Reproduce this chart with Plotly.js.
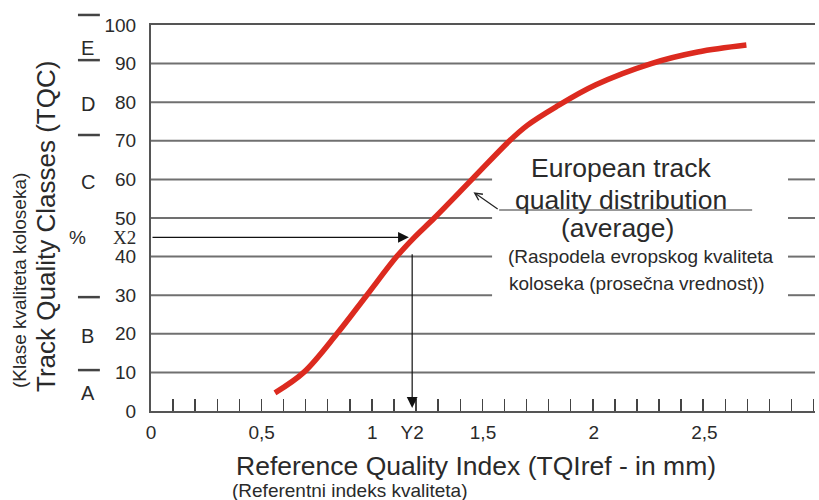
<!DOCTYPE html>
<html>
<head>
<meta charset="utf-8">
<script src="https://cdn.plot.ly/plotly-3.0.1.min.js"></script>
<style>html,body{margin:0;padding:0;background:#fff;}#chart{width:819px;height:500px;}</style>
</head>
<body>
<div id="chart"></div>
<script>
// ---- data ----
const tqiRef = [0.56, 0.69, 0.84, 0.975, 1.11, 1.19, 1.28, 1.45, 1.62, 1.70, 1.83, 2.01, 2.26, 2.47, 2.69];
const tqcPct = [4.7, 10, 20, 30, 40, 45, 50, 60, 70, 74, 78.8, 84.5, 90, 93, 94.8];

const xTickVals = [0, 0.5, 1, 1.18, 1.5, 2, 2.5, 3];
const xTickText = ['0', '0,5', '1', 'Y2', '1,5', '2', '2,5', '3'];
const yTickVals = [0, 10, 20, 30, 40, 45, 50, 60, 70, 80, 90, 100];
const yTickText = ['0', '10', '20', '30', '40', '<span style="font-family:Liberation Serif">X2</span>', '50', '60', '70', '80', '90', '100'];

const classNames = ['A', 'B', 'C', 'D', 'E'];
const classCenters = [4.7, 19.4, 59.3, 79.5, 94];
const classBounds = [10.6, 29.5, 71.5, 90.9, 102.6];

const gridFull = [10, 20, 70, 80, 90];
const gridBroken = [30, 40, 50, 60];

const x2Level = 45;   // X2
const y2Value = 1.18; // Y2

// ---- styles ----
const FONT = 'Liberation Sans, Arial, sans-serif';
const TXT = '#2a2a2a';
const GRID = '#707070';

const shapes = [];
gridFull.forEach(v => shapes.push({type:'line', xref:'x', yref:'y', x0:0, x1:3, y0:v, y1:v, layer:'below', line:{color:GRID, width:2}}));
gridBroken.forEach(v => {
  shapes.push({type:'line', xref:'x', yref:'y', x0:0, x1:1.541, y0:v, y1:v, layer:'below', line:{color:GRID, width:2}});
  shapes.push({type:'line', xref:'x', yref:'y', x0:2.878, x1:3, y0:v, y1:v, layer:'below', line:{color:GRID, width:2}});
});
// class boundary dashes (left of axis)
classBounds.forEach(v => shapes.push({type:'line', xref:'paper', yref:'paper', x0:-0.110, x1:-0.077, y0:v/100, y1:v/100, line:{color:'#444', width:2.5}}));
// underline of the label
shapes.push({type:'line', xref:'x', yref:'y', x0:1.573, x1:2.716, y0:52.07, y1:52.07, line:{color:'#333', width:1.2}});

const annotations = [];
classNames.forEach((c, i) => annotations.push({xref:'paper', yref:'y', x:-0.0949, y:classCenters[i], text:c, showarrow:false, font:{family:FONT, size:20, color:TXT}, xanchor:'center', yanchor:'middle'}));
annotations.push({xref:'paper', yref:'y', x:-0.111, y:x2Level, text:'%', showarrow:false, font:{family:FONT, size:19, color:TXT}, xanchor:'center', yanchor:'middle'});
// axis titles
annotations.push({xref:'paper', yref:'paper', x:-0.158, y:0.477, text:'Track Quality Classes (TQC)', textangle:-90, showarrow:false, font:{family:FONT, size:26, color:TXT}, xanchor:'center', yanchor:'middle'});
annotations.push({xref:'paper', yref:'paper', x:-0.197, y:0.337, text:'(Klase kvaliteta koloseka)', textangle:-90, showarrow:false, font:{family:FONT, size:19, color:TXT}, xanchor:'center', yanchor:'middle'});
annotations.push({xref:'paper', yref:'paper', x:0.489, y:-0.1425, text:'Reference Quality Index (TQIref - in mm)', showarrow:false, font:{family:FONT, size:26.5, color:TXT}, xanchor:'center', yanchor:'middle'});
annotations.push({xref:'paper', yref:'paper', x:0.2997, y:-0.2047, text:'(Referentni indeks kvaliteta)', showarrow:false, font:{family:FONT, size:19, color:TXT}, xanchor:'center', yanchor:'middle'});
// label text
const labelLines = [
  ['European track', 2.124, 62.95, 26.5],
  ['quality distribution', 2.124, 54.7, 26.5],
  ['(average)', 2.106, 47.4, 26.5],
  ['(Raspodela evropskog kvaliteta', 2.214, 39.9, 19],
  ['koloseka (prosečna vrednost))', 2.196, 33.0, 19]
];
labelLines.forEach(l => annotations.push({xref:'x', yref:'y', x:l[1], y:l[2], text:l[0], showarrow:false, font:{family:FONT, size:l[3], color:TXT}, xanchor:'center', yanchor:'middle'}));
// arrows
annotations.push({xref:'x', yref:'y', axref:'x', ayref:'y', x:1.165, y:x2Level, ax:0, ay:x2Level, text:'', showarrow:true, arrowhead:2, arrowsize:1.8, arrowwidth:1.2, arrowcolor:'#111'});
annotations.push({xref:'x', yref:'y', axref:'x', ayref:'y', x:y2Value, y:0.8, ax:y2Value, ay:41, text:'', showarrow:true, arrowhead:2, arrowsize:1.8, arrowwidth:1.2, arrowcolor:'#111'});
annotations.push({xref:'x', yref:'y', axref:'x', ayref:'y', x:1.457, y:56.7, ax:1.573, ay:52.07, text:'', showarrow:true, arrowhead:5, arrowsize:1.2, arrowwidth:1.2, arrowcolor:'#222'});

const traces = [
  {
    x: tqiRef, y: tqcPct, type:'scatter', mode:'lines',
    line:{color:'#dc2a1f', width:5.5, shape:'spline', smoothing:1},
    hoverinfo:'x+y', showlegend:false
  },
  // same series bound to the overlay axis that carries the small inner ticks (invisible)
  {
    x: tqiRef, y: tqcPct, xaxis:'x2', type:'scatter', mode:'lines',
    line:{color:'rgba(0,0,0,0)', width:0}, opacity:0, hoverinfo:'skip', showlegend:false
  }
];

const layout = {
  width:819, height:500,
  margin:{l:151, r:4, t:25, b:89, pad:0},
  paper_bgcolor:'#fff', plot_bgcolor:'#fff',
  showlegend:false,
  font:{family:FONT, color:TXT},
  xaxis:{
    range:[0,3], tickmode:'array', tickvals:xTickVals, ticktext:xTickText,
    ticks:'outside', ticklen:3, tickcolor:'rgba(0,0,0,0)',
    tickfont:{family:FONT, size:19, color:TXT},
    showgrid:false, zeroline:false, showline:true, mirror:true, linecolor:'#555', linewidth:2,
    fixedrange:true
  },
  xaxis2:{
    overlaying:'x', anchor:'y', side:'bottom', range:[0,3.006],
    tickmode:'linear', tick0:0, dtick:0.1, ticks:'inside', ticklen:12, tickwidth:1.5, tickcolor:'#444',
    showticklabels:false, showgrid:false, zeroline:false, showline:false, fixedrange:true
  },
  yaxis:{
    range:[0,100], tickmode:'array', tickvals:yTickVals, ticktext:yTickText,
    ticks:'outside', ticklen:9, tickcolor:'rgba(0,0,0,0)',
    tickfont:{family:FONT, size:19, color:TXT},
    showgrid:false, zeroline:false, showline:true, linecolor:'#555', linewidth:2,
    fixedrange:true
  },
  shapes: shapes,
  annotations: annotations
};

Plotly.newPlot('chart', traces, layout, {staticPlot:true, displayModeBar:false});
</script>
</body>
</html>
